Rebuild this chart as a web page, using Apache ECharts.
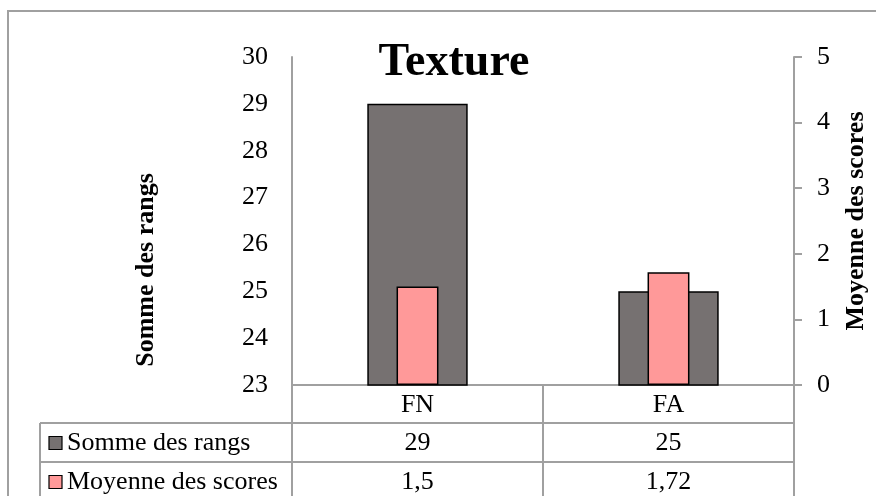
<!DOCTYPE html>
<html>
<head>
<meta charset="utf-8">
<script src="https://cdn.jsdelivr.net/npm/echarts@6/dist/echarts.min.js"></script>
<style>
  html, body { margin: 0; padding: 0; background: #fff; }
  #chart { width: 876px; height: 496px; }
</style>
</head>
<body>
<div id="chart"></div>
<script>
// Texture: sum of ranks (left axis) and mean score (right axis) per product
const categories = ['FN', 'FA'];
const rankSums = [29, 25];
const meanScores = [1.5, 1.72];
const rankTicks = { min: 23, max: 30, interval: 1 };
const scoreTicks = { min: 0, max: 5, interval: 1 };
const seriesNames = ['Somme des rangs', 'Moyenne des scores'];

const FONT = '"Liberation Serif", "Times New Roman", serif';
const GRAY = '#767171';
const PINK = '#FF9999';
const LINE = '#A0A0A0';

const G = { left: 292, right: 82, top: 57, bottom: 111 };
const W = 876, H = 496;

const fmtFr = v => String(v).replace('.', ',');

const chart = echarts.init(document.getElementById('chart'), null, { renderer: 'canvas' });

const option = {
  animation: false,
  backgroundColor: '#fff',
  title: {
    text: 'Texture',
    left: 449,
    top: 35,
    textAlign: 'center',
    textStyle: { fontFamily: FONT, fontSize: 46, fontWeight: 'bold', color: '#000' }
  },
  grid: { left: G.left, right: G.right, top: G.top, bottom: G.bottom, containLabel: false, outerBoundsMode: 'none' },
  xAxis: [
    {
      type: 'category',
      data: categories,
      axisLine: { show: true, lineStyle: { color: LINE, width: 2 } },
      axisTick: { show: false },
      axisLabel: { fontFamily: FONT, fontSize: 26, color: '#000', margin: 20, verticalAlign: 'middle' }
    },
    {
      type: 'category',
      data: categories,
      show: false
    }
  ],
  yAxis: [
    {
      type: 'value',
      position: 'left',
      min: rankTicks.min, max: rankTicks.max, interval: rankTicks.interval,
      axisLine: { show: true, lineStyle: { color: LINE, width: 2 } },
      axisTick: { show: false },
      splitLine: { show: false },
      axisLabel: { fontFamily: FONT, fontSize: 26, color: '#000', margin: 24 }
    },
    {
      type: 'value',
      position: 'right',
      min: scoreTicks.min, max: scoreTicks.max, interval: scoreTicks.interval,
      axisLine: { show: true, lineStyle: { color: LINE, width: 2 } },
      axisTick: { show: true, inside: false, length: 8, lineStyle: { color: LINE, width: 2 } },
      splitLine: { show: false },
      axisLabel: { fontFamily: FONT, fontSize: 26, color: '#000', margin: 23 }
    }
  ],
  series: [
    {
      name: seriesNames[0],
      type: 'bar',
      xAxisIndex: 0,
      yAxisIndex: 0,
      data: rankSums,
      barWidth: '40%',
      clip: true,
      itemStyle: { color: GRAY, borderColor: '#000', borderWidth: 1.5 }
    },
    {
      name: seriesNames[1],
      type: 'bar',
      xAxisIndex: 1,
      yAxisIndex: 1,
      data: meanScores,
      barWidth: '16.7%',
      clip: true,
      itemStyle: { color: PINK, borderColor: '#000', borderWidth: 1.5 }
    }
  ]
};

chart.setOption(option);

// Data table under the plot, plus the outer frame and the two axis titles
function buildTable() {
  const axisY = H - G.bottom;
  const plotRight = W - G.right;
  const colW = (plotRight - G.left) / categories.length;
  const tableLeft = 40;
  const rowH = 39;
  const row1Top = axisY + 38;
  const row2Top = row1Top + rowH;
  const els = [];

  // outer chart frame (extends past the canvas on the right and bottom)
  els.push({ type: 'rect', shape: { x: 8, y: 11, width: W + 20, height: H + 20 },
    style: { fill: null, stroke: LINE, lineWidth: 2 }, silent: true, z: 0 });

  // axis titles, both reading bottom to top
  els.push({ type: 'text', x: 146, y: 270, rotation: Math.PI / 2,
    style: { text: seriesNames[0], font: 'bold 26px ' + FONT, fill: '#000', align: 'center', verticalAlign: 'middle' }, z: 10 });
  els.push({ type: 'text', x: 856, y: 221, rotation: Math.PI / 2,
    style: { text: seriesNames[1], font: 'bold 26px ' + FONT, fill: '#000', align: 'center', verticalAlign: 'middle' }, z: 10 });

  const line = (x1, y1, x2, y2) => els.push({ type: 'line', shape: { x1, y1, x2, y2 },
    style: { stroke: LINE, lineWidth: 2 }, silent: true, z: 5 });

  // horizontal rules
  [row1Top, row2Top, row2Top + rowH].forEach(y => line(tableLeft, y, plotRight, y));
  // vertical rules
  line(tableLeft, row1Top, tableLeft, H + 10);
  for (let i = 0; i <= categories.length; i++) {
    const x = G.left + i * colW;
    line(x, axisY, x, H + 10);
  }

  const rows = [
    { values: rankSums, color: GRAY, name: seriesNames[0], top: row1Top },
    { values: meanScores, color: PINK, name: seriesNames[1], top: row2Top }
  ];
  rows.forEach(r => {
    const cy = r.top + rowH / 2 + 1;
    els.push({ type: 'rect', shape: { x: 49, y: cy - 7, width: 13, height: 13 },
      style: { fill: r.color, stroke: '#000', lineWidth: 1.2 }, z: 10 });
    els.push({ type: 'text', x: 67, y: cy,
      style: { text: r.name, font: '26px ' + FONT, fill: '#000', align: 'left', verticalAlign: 'middle' }, z: 10 });
    r.values.forEach((v, i) => {
      const cx = chart.convertToPixel({ xAxisIndex: 0 }, categories[i]);
      els.push({ type: 'text', x: cx, y: cy,
        style: { text: fmtFr(v), font: '26px ' + FONT, fill: '#000', align: 'center', verticalAlign: 'middle' }, z: 10 });
    });
  });

  chart.setOption({ graphic: { elements: els } });
}
buildTable();
</script>
</body>
</html>
